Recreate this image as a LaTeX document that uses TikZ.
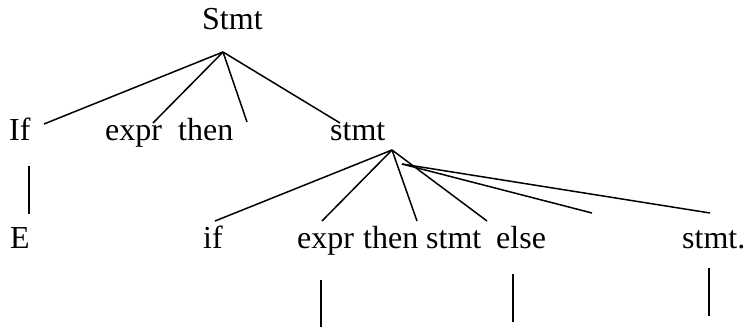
\documentclass[tikz,border=0pt]{standalone}
\usepackage{fontspec}
\setmainfont{Liberation Serif}
\begin{document}
\begin{tikzpicture}[x=1pt,y=-1pt,
  word/.style={anchor=base west,inner sep=0pt,font=\fontsize{32}{38}\selectfont},
  edge/.style={line width=1.5pt},
  bar/.style={line width=2.6pt}]
\useasboundingbox[fill=white] (0,0) rectangle (744,329);
% words
\node[word] (S) at (202,30) {Stmt};
\node[word] (If) at (9,140) {If};
\node[word] (expr1) at (105,140) {expr};
\node[word] (then1) at (178,140) {then};
\node[word] (stmt1) at (330,140) {stmt};
\node[word] (E) at (10,248) {E};
\node[word] (if2) at (203,248) {if};
\node[word] (expr2) at (297,248) {expr};
\node[word] (then2) at (363,248) {then};
\node[word] (stmt2) at (426,248) {stmt};
\node[word] (else2) at (496,248) {else};
\node[word] (stmt3) at (682,248) {stmt.};
% connector ends
\coordinate (A) at (223,52);
\coordinate (a1) at (44,124);
\coordinate (a2) at (153,123);
\coordinate (a3) at (247,122);
\coordinate (a4) at (340,123);
\coordinate (B) at (392,150);
\coordinate (b1) at (215,221);
\coordinate (b2) at (322,221);
\coordinate (b3) at (417,221);
\coordinate (b4) at (487,221);
\coordinate (C) at (402,164);
\coordinate (c1) at (592,213);
\coordinate (c2) at (710,213);
\coordinate (d1) at (29,166);
\coordinate (d2) at (29,214);
\coordinate (e1) at (321,280);
\coordinate (e2) at (321,327);
\coordinate (f1) at (513,274);
\coordinate (f2) at (513,322);
\coordinate (g1) at (709,268);
\coordinate (g2) at (709,316);
% connectors
\draw[edge] (A) -- (a1);
\draw[edge] (A) -- (a2);
\draw[edge] (A) -- (a3);
\draw[edge] (A) -- (a4);
\draw[edge] (B) -- (b1);
\draw[edge] (B) -- (b2);
\draw[edge] (B) -- (b3);
\draw[edge] (B) -- (b4);
\draw[edge] (C) -- (c1);
\draw[edge] (C) -- (c2);
\draw[bar] (d1) -- (d2);
\draw[bar] (e1) -- (e2);
\draw[bar] (f1) -- (f2);
\draw[bar] (g1) -- (g2);
\end{tikzpicture}
\end{document}
